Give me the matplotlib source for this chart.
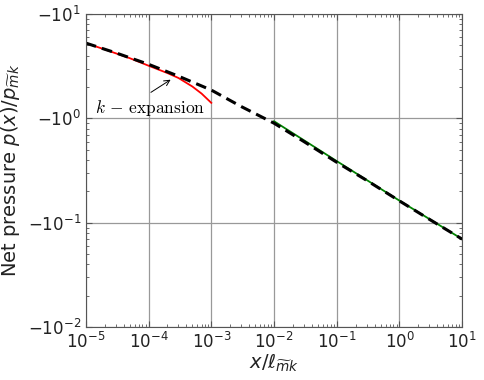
import matplotlib
matplotlib.use("Agg")
import matplotlib.pyplot as plt
import numpy as np
from matplotlib.ticker import FuncFormatter, LogLocator

# full solution (dashed)
x_full = [1e-5, 3e-5, 1e-4, 3e-4, 1e-3, 3e-3, 1e-2, 3e-2, 1e-1, 3e-1, 1e0, 3e0, 1e1]
p_full = [5.27, 4.25, 3.30, 2.54, 1.87, 1.30, 0.90, 0.60, 0.38, 0.255, 0.162, 0.108, 0.0697]

# near-field k-expansion (red)
x_near = [1e-5, 2e-5, 5e-5, 1e-4, 2e-4, 3e-4, 5e-4, 7e-4, 1e-3]
p_near = [5.27, 4.58, 3.78, 3.20, 2.72, 2.44, 2.02, 1.73, 1.41]

# far-field asymptote (green)
x_far = [1e-2, 1e-1, 1e0, 1e1]
p_far = [0.94, 0.39, 0.163, 0.0697]

fig = plt.figure(figsize=(4.85, 3.8), dpi=100)
ax = fig.add_axes([0.177, 0.139, 0.776, 0.824])

ax.plot(x_near, p_near, color='r', lw=1.3)
ax.plot(x_far, p_far, color='g', lw=1.3)
ax.plot(x_full, p_full, color='k', lw=2.2, ls=(0, (3.5, 2)))

ax.set_xscale('log')
ax.set_yscale('log')
ax.set_xlim(1e-5, 1e1)
ax.set_ylim(1e-2, 1e1)

ax.xaxis.set_major_locator(LogLocator(base=10, numticks=10))
ax.yaxis.set_major_locator(LogLocator(base=10, numticks=10))
ax.yaxis.set_major_formatter(FuncFormatter(lambda v, pos: r"$-10^{%d}$" % round(np.log10(v))))

ax.grid(True, which='major', color='#999999', lw=0.9)
ax.tick_params(which='both', direction='in', top=True, right=True, colors='#555555',
               labelcolor='#222222')
ax.tick_params(which='major', length=4, labelsize=12)
ax.tick_params(which='minor', length=2)
for s in ax.spines.values():
    s.set_color('#555555')

ax.set_xlabel(r"$x/\ell_{\widetilde{m}k}$", fontsize=14, color='#222222', labelpad=0)
ax.set_ylabel(r"Net pressure $p(x)/p_{\widetilde{m}k}$", fontsize=14, color='#222222')

ax.text(1.4e-5, 1.26, r"$k\,-\,\mathrm{expansion}$", fontsize=12.5, math_fontfamily='cm',
        va='center', ha='left')
ax.annotate('', xy=(2.45e-4, 2.43), xytext=(1.0e-4, 1.72),
            arrowprops=dict(arrowstyle='->', color='k', lw=0.7))

fig.savefig('out.png', dpi=100)
